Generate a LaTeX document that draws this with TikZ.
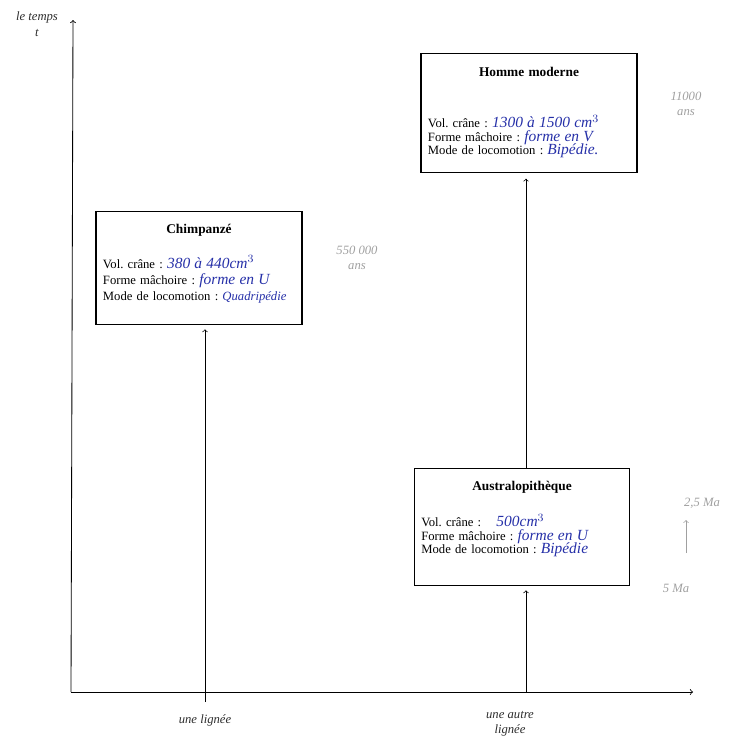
\documentclass[tikz,border=0pt]{standalone}
\usepackage{fontspec}
\setmainfont{Liberation Serif}
\definecolor{encre}{RGB}{38,48,168}
\definecolor{crayon}{RGB}{160,160,160}
\definecolor{mine}{RGB}{45,45,45}
\newcommand{\encre}[1]{{\color{encre}\itshape\fontsize{11}{12}\selectfont #1}}
\frenchspacing
\begin{document}
\begin{tikzpicture}[x=0.025cm, y=-0.025cm,
	fiche/.style={draw, line width=0.8pt, minimum width=#1, inner sep=0pt},
	texte/.style={anchor=north, inner sep=0pt, text width=#1, align=left, font=\fontsize{9}{10.5}\selectfont},
	main/.style={mine, font=\itshape\fontsize{9}{11}\selectfont, align=center},
	pale/.style={crayon, font=\itshape\fontsize{9}{11}\selectfont, align=center}]
	\useasboundingbox (0,0) rectangle (740,738);
	% axes
	\coordinate (O) at (71,692);
	\coordinate (Ty) at (73,20);
	\coordinate (Tx) at (693,692);
	\draw[->, line width=0.6pt] (O) -- (Ty);
	\draw[->, line width=0.6pt] (O) -- (Tx);
	\node[main] (temps) at (37,24) {le temps\\t};
	% les fiches
	\node[fiche=5.15cm, minimum height=2.825cm] (chimp) at (199,268) {};
	\node[texte=4.8cm] (chimpT) at ([yshift=-9pt]chimp.north) {%
		{\centering\bfseries\fontsize{9.5}{11}\selectfont Chimpanzé\par}\vspace{13pt}
		Vol. crâne : \encre{380 à 440cm$^3$}\\[1pt]
		Forme mâchoire : \encre{forme en U}\\[1pt]
		Mode de locomotion : {\color{encre}\itshape Quadripédie}};
	\node[fiche=5.4cm, minimum height=2.975cm] (homme) at (529,113) {};
	\node[texte=5.05cm] (hommeT) at ([yshift=-10pt]homme.north) {%
		{\centering\bfseries\fontsize{9.5}{11}\selectfont Homme moderne\par}\vspace{26pt}
		Vol. crâne : \encre{1300 à 1500 cm$^3$}\\[-1pt]
		Forme mâchoire : \encre{forme en V}\\[-1pt]
		Mode de locomotion : \encre{Bipédie.}};
	\node[fiche=5.375cm, minimum height=2.925cm] (austral) at (522,527) {};
	\node[texte=5.03cm] (australT) at ([yshift=-9pt]austral.north) {%
		{\centering\bfseries\fontsize{9.5}{11}\selectfont Australopithèque\par}\vspace{14pt}
		Vol. crâne :\hspace{1.2em}\encre{500cm$^3$}\\[-1pt]
		Forme mâchoire : \encre{forme en U}\\[-1pt]
		Mode de locomotion : \encre{Bipédie}};
	% lignées
	\coordinate (lignA) at (205,702);
	\coordinate (lignB) at (526,692);
	\draw[->, line width=0.5pt, shorten >=3pt] (lignA) -- (lignA |- chimp.south);
	\draw[->, line width=0.5pt, shorten >=3pt] (lignB) -- (lignB |- austral.south);
	\draw[->, line width=0.5pt, shorten >=4pt] (lignB |- austral.north) -- (lignB |- homme.south);
	\node[main] (lignee) at (205,720) {une lignée};
	\node[main] (autre) at (510,724) {une autre\\lignée};
	% dates au crayon
	\node[pale] (dateChimp) at (357,258) {550 000\\ans};
	\node[pale] (dateHomme) at (686,104) {11000\\ans};
	\node[pale] (deuxMa) at (702,503) {2,5 Ma};
	\node[pale] (cinqMa) at (676,588) {5 Ma};
	\coordinate (dateBas) at (686,553);
	\coordinate (dateHaut) at (686,520);
	\draw[->, crayon, line width=0.5pt] (dateBas) -- (dateHaut);
\end{tikzpicture}
\end{document}
